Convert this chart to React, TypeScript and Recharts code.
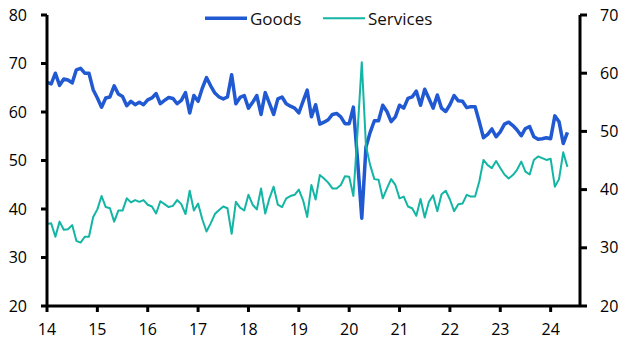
import React from 'react';
import { LineChart, Line, XAxis, YAxis, Legend } from 'recharts';

// Monthly readings, Jan 2014 – May 2024
const goods: number[] = [
  66.1, 65.8, 68.0, 65.5, 66.8, 66.6, 66.0, 68.7, 69.0, 68.0, 68.0, 64.6,
  62.9, 61.0, 62.9, 63.1, 65.4, 63.7, 63.2, 61.3, 62.2, 61.5, 62.0, 61.5,
  62.5, 62.9, 63.8, 61.7, 62.4, 63.0, 62.8, 61.7, 62.4, 64.0, 59.8, 63.4,
  62.2, 64.9, 67.1, 65.4, 63.9, 63.1, 62.7, 63.1, 67.7, 61.7, 63.0, 63.4,
  60.8, 62.0, 63.4, 59.5, 64.0, 61.8, 59.5, 62.7, 63.1, 61.7, 61.2, 60.8,
  59.8, 62.2, 64.5, 59.0, 61.5, 57.5, 57.9, 58.4, 59.5, 59.7, 59.0, 57.6,
  57.6, 61.0, 50.0, 38.1, 52.8, 55.8, 58.2, 58.2, 61.4, 60.1, 58.0, 59.0,
  61.4, 60.8, 62.8, 63.1, 64.3, 61.4, 64.7, 62.8, 60.8, 63.5, 60.8, 60.1,
  61.5, 63.4, 62.3, 62.2, 60.9, 61.1, 61.1, 58.0, 54.7, 55.4, 56.5, 54.9,
  55.9, 57.5, 57.9, 57.2, 56.3, 55.1, 56.6, 57.0, 54.9, 54.4, 54.5, 54.7,
  54.5, 59.2, 58.0, 53.5, 55.8,
];

const services: number[] = [
  34.1, 34.2, 31.9, 34.5, 33.1, 33.2, 33.9, 31.2, 30.9, 31.9, 31.9, 35.3,
  36.6, 38.9, 37.0, 36.8, 34.5, 36.4, 36.4, 38.5, 37.8, 38.2, 37.9, 38.2,
  37.4, 37.1, 35.9, 38.0, 37.5, 37.0, 37.2, 38.2, 37.5, 35.8, 39.8, 36.4,
  37.6, 34.9, 32.8, 34.2, 35.8, 36.5, 37.1, 36.8, 32.4, 37.9, 36.9, 36.4,
  39.1, 37.4, 36.6, 40.2, 35.9, 38.5, 40.5, 37.4, 37.0, 38.5, 38.9, 39.1,
  40.0, 38.2, 35.3, 40.8, 38.3, 42.5, 41.9, 41.2, 40.2, 40.2, 40.8, 42.3,
  42.2, 38.9, 50.0, 61.9, 47.5, 44.2, 41.8, 41.7, 38.5, 40.2, 41.8, 40.8,
  38.5, 38.8, 37.1, 36.8, 35.5, 38.4, 35.2, 37.9, 39.0, 36.3, 39.2, 39.8,
  38.3, 36.3, 37.5, 37.6, 39.1, 38.8, 38.8, 41.4, 45.1, 44.2, 43.7, 44.9,
  43.7, 42.6, 41.9, 42.5, 43.4, 44.8, 43.1, 42.6, 45.1, 45.7, 45.4, 45.1,
  45.3, 40.5, 41.8, 46.4, 43.9,
];

const startYear = 2014;
const xTicks = [2014, 2015, 2016, 2017, 2018, 2019, 2020, 2021, 2022, 2023, 2024];
const leftTicks = [20, 30, 40, 50, 60, 70, 80];
const rightTicks = [20, 30, 40, 50, 60, 70];
const seriesNames = ['Goods', 'Services'];

const data = goods.map((g, i) => ({
  t: startYear + i / 12,
  goods: g,
  services: services[i],
}));

const GOODS_COLOR = '#2059D1';
const SERVICES_COLOR = '#13B5A4';
const FONT = "'Open Sans', sans-serif";
const AXIS = { stroke: '#000', strokeWidth: 3 };
const TICK = { fill: '#000', fontSize: 16, fontFamily: FONT };

const LegendContent = () => (
  <svg width={260} height={26} style={{ display: 'block', overflow: 'visible' }}>
    <line x1={15} x2={57} y1={10.3} y2={10.3} stroke={GOODS_COLOR} strokeWidth={3.5} />
    <text x={60} y={16.5} fontFamily={FONT} fontSize={17} fill="#111">{seriesNames[0]}</text>
    <line x1={133} x2={175} y1={10.3} y2={10.3} stroke={SERVICES_COLOR} strokeWidth={2} />
    <text x={178} y={16.5} fontFamily={FONT} fontSize={17} fill="#111">{seriesNames[1]}</text>
  </svg>
);

export default function App() {
  return (
    <div style={{ marginTop: -8, marginLeft: -8, width: 623, height: 345 }}>
      <LineChart
        width={623}
        height={345}
        data={data}
        margin={{ top: 15, right: 0, bottom: 0, left: 0 }}
      >
        <XAxis
          dataKey="t"
          type="number"
          domain={[2014, 2024.583]}
          allowDataOverflow
          ticks={xTicks}
          interval={0}
          tickFormatter={(v: number) => String(v).slice(2)}
          axisLine={AXIS}
          tickLine={AXIS}
          tickSize={6}
          tickMargin={12}
          height={39}
          tick={TICK}
        />
        <YAxis
          yAxisId="left"
          domain={[20, 80]}
          ticks={leftTicks}
          interval={0}
          width={47}
          axisLine={AXIS}
          tickLine={AXIS}
          tickSize={6}
          tickMargin={14}
          tick={TICK}
        />
        <YAxis
          yAxisId="right"
          orientation="right"
          domain={[20, 70]}
          ticks={rightTicks}
          interval={0}
          width={43}
          axisLine={AXIS}
          tickLine={AXIS}
          tickSize={7}
          tickMargin={13}
          tick={TICK}
        />
        <Legend
          layout="horizontal"
          verticalAlign="middle"
          align="center"
          wrapperStyle={{ top: 8, left: 190, width: 260, height: 26 }}
          content={LegendContent}
        />
        <Line
          yAxisId="left"
          dataKey="goods"
          name={seriesNames[0]}
          type="linear"
          stroke={GOODS_COLOR}
          strokeWidth={3.5}
          dot={false}
          strokeLinejoin="round"
          isAnimationActive={false}
        />
        <Line
          yAxisId="right"
          dataKey="services"
          name={seriesNames[1]}
          type="linear"
          stroke={SERVICES_COLOR}
          strokeWidth={2}
          dot={false}
          strokeLinejoin="round"
          isAnimationActive={false}
        />
      </LineChart>
    </div>
  );
}
